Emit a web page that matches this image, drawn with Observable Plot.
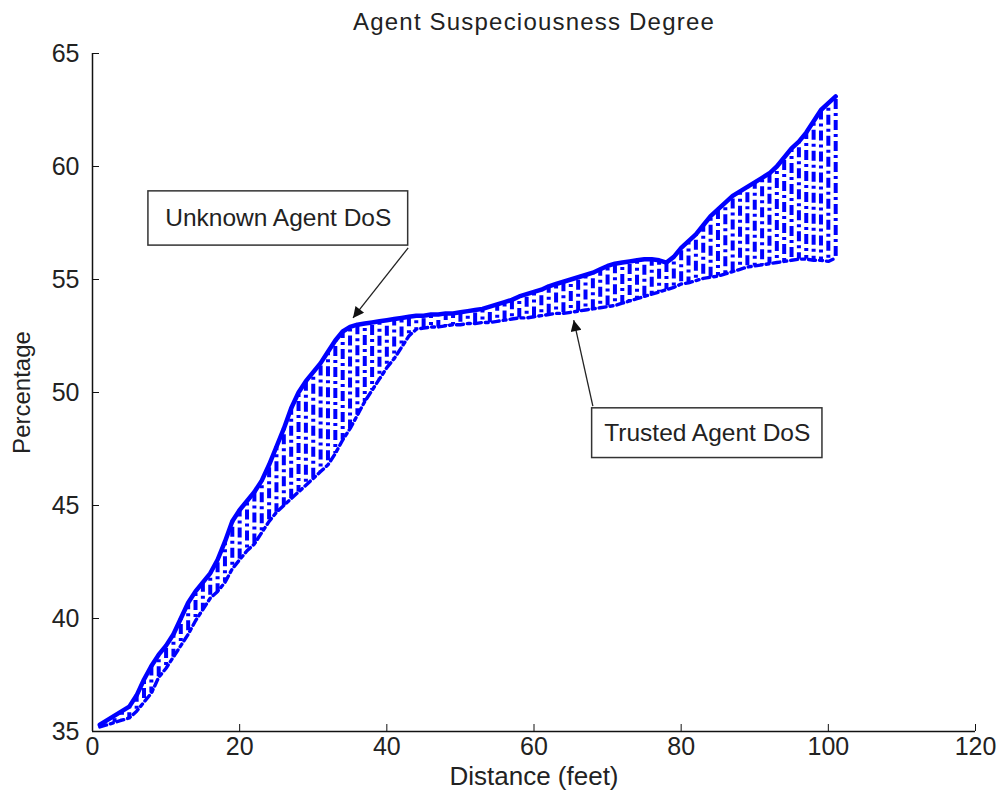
<!DOCTYPE html>
<html><head><meta charset="utf-8">
<script src="https://cdn.jsdelivr.net/npm/d3@7"></script>
<script src="https://cdn.jsdelivr.net/npm/@observablehq/plot@0.6"></script>
<style>
body{margin:0;background:#fff}
svg{font-family:"Liberation Sans",Arial,sans-serif}
</style>
</head><body><div id="chart"></div>
<script>
// Distance (feet), sampled every foot
const distance = d3.range(1, 102);
// Unknown agent degree of suspiciousness (upper edge of band)
const unknownDoS = [
35.3,35.5,35.7,35.9,36.1,36.6,37.3,37.9,38.4,38.8,
39.3,40.0,40.7,41.2,41.6,42.0,42.6,43.4,44.3,44.8,
45.2,45.6,46.1,46.8,47.6,48.4,49.3,50.0,50.5,50.9,
51.3,51.8,52.3,52.7,52.9,53.0,53.05,53.1,53.15,53.2,
53.25,53.3,53.35,53.4,53.4,53.45,53.45,53.5,53.5,53.55,
53.6,53.65,53.7,53.8,53.9,54.0,54.1,54.25,54.35,54.45,
54.55,54.7,54.8,54.9,55.0,55.1,55.2,55.3,55.45,55.6,
55.7,55.75,55.8,55.85,55.9,55.9,55.85,55.75,56.0,56.4,
56.7,57.0,57.4,57.8,58.1,58.4,58.7,58.9,59.1,59.3,
59.5,59.7,60.0,60.4,60.8,61.1,61.5,62.0,62.5,62.8,
63.1];
// Trusted agent degree of suspiciousness (lower edge of band)
const trustedDoS = [
35.2,35.3,35.4,35.5,35.6,35.9,36.3,36.7,37.4,37.8,
38.3,38.8,39.3,39.9,40.4,40.9,41.2,41.6,42.2,42.6,
43.0,43.3,43.8,44.3,44.7,45.0,45.3,45.6,45.9,46.2,
46.5,46.8,47.3,47.9,48.4,49.0,49.6,50.1,50.6,51.1,
51.5,52.0,52.5,52.8,52.85,52.9,52.9,52.95,53.0,53.0,
53.05,53.05,53.1,53.1,53.15,53.2,53.25,53.3,53.3,53.35,
53.4,53.45,53.5,53.5,53.55,53.6,53.65,53.7,53.75,53.8,
53.85,53.95,54.05,54.15,54.25,54.35,54.45,54.55,54.65,54.8,
54.85,54.95,55.05,55.1,55.15,55.25,55.35,55.45,55.55,55.6,
55.65,55.7,55.75,55.8,55.85,55.9,55.9,55.85,55.85,55.8,
55.95];

const xTicks = [0, 20, 40, 60, 80, 100, 120];
const yTicks = [35, 40, 45, 50, 55, 60, 65];
const titleText = "Agent Suspeciousness Degree";
const xLabelText = "Distance (feet)";
const yLabelText = "Percentage";

// Annotations (data coordinates)
const annLabels = ["Unknown Agent DoS", "Trusted Agent DoS"];
const annBoxX1 = [7.6, 67.9];
const annBoxX2 = [42.9, 99.2];
const annBoxY1 = [56.5, 47.1];
const annBoxY2 = [58.9, 49.3];
const annArrowX1 = [42.9, 68.0];
const annArrowY1 = [56.4, 49.4];
const annArrowX2 = [35.4, 65.4];
const annArrowY2 = [53.3, 53.2];

const band = distance.map((d, i) => ({x: d, hi: unknownDoS[i], lo: trustedDoS[i]}));
const ann = annLabels.map((t, i) => ({
  text: t,
  bx1: annBoxX1[i], bx2: annBoxX2[i], by1: annBoxY1[i], by2: annBoxY2[i],
  cx: (annBoxX1[i] + annBoxX2[i]) / 2, cy: (annBoxY1[i] + annBoxY2[i]) / 2,
  ax1: annArrowX1[i], ay1: annArrowY1[i], ax2: annArrowX2[i], ay2: annArrowY2[i]
}));

const blue = "#0000ff";
const dash = "10,4,3,4";

const chart = Plot.plot({
  width: 1005,
  height: 802,
  marginLeft: 92,
  marginRight: 30,
  marginTop: 53,
  marginBottom: 71,
  style: {background: "#fff", color: "#222", fontFamily: "'Liberation Sans', Arial, sans-serif", fontSize: "24px"},
  x: {domain: [0, 120]},
  y: {domain: [35, 65]},
  marks: [
    Plot.ruleX(band, {x: "x", y1: "hi", y2: "lo", stroke: blue, strokeWidth: 4, strokeDasharray: dash}),
    Plot.lineY(band, {x: "x", y: "lo", stroke: blue, strokeWidth: 3.4, strokeDasharray: "7,4,3,4"}),
    Plot.lineY(band, {x: "x", y: "hi", stroke: blue, strokeWidth: 4.5}),
    Plot.ruleX([0], {stroke: "#111", strokeWidth: 1.5}),
    Plot.ruleY([35], {stroke: "#111", strokeWidth: 1.5}),
    Plot.axisX({ticks: xTicks, tickSize: -7, tickPadding: 13, label: null, fontSize: 25, stroke: "#111", tickFormat: d => String(d)}),
    Plot.axisY({ticks: yTicks, tickSize: -7, tickPadding: 20, label: null, fontSize: 25, stroke: "#111", tickFormat: d => String(d)}),
    Plot.link(ann, {x1: "ax1", y1: "ay1", x2: "ax2", y2: "ay2", stroke: "#222", strokeWidth: 1.3}),
    Plot.rect(ann, {x1: "bx1", x2: "bx2", y1: "by1", y2: "by2", fill: "#fff", stroke: "#333", strokeWidth: 1.5}),
    Plot.text(ann, {x: "cx", y: "cy", text: "text", fontSize: 24.5, fill: "#222"}),
    Plot.text([titleText], {frameAnchor: "top", dy: -33, text: d => d, fontSize: 24, fill: "#222"}),
    Plot.text([xLabelText], {frameAnchor: "bottom", dy: 53, text: d => d, fontSize: 26, fill: "#222"}),
    Plot.text([yLabelText], {frameAnchor: "left", dx: -70, rotate: -90, textAnchor: "middle", text: d => d, fontSize: 24, fill: "#222"})
  ]
});

const svg = d3.select(chart);
// filled arrowheads for the annotation links
svg.append("defs").append("marker")
  .attr("id", "ahead").attr("viewBox", "0 0 10 10").attr("refX", 10).attr("refY", 5)
  .attr("markerWidth", 14).attr("markerHeight", 11).attr("markerUnits", "userSpaceOnUse")
  .attr("orient", "auto")
  .append("path").attr("d", "M0,0L10,5L0,10z").attr("fill", "#111");
svg.selectAll("g[aria-label=link] path").attr("marker-end", "url(#ahead)");
// stagger the dash phase of the hatch lines
d3.select(svg.selectAll("g[aria-label=rule]").nodes()[0]).selectAll("line")
  .attr("stroke-dashoffset", (d, i) => (i * 9) % 21);
// title: letter-spaced, nudged up
svg.selectAll("text").filter(function() { return this.textContent === titleText; })
  .attr("letter-spacing", "1.2px").attr("dy", "-0.3em");

document.getElementById("chart").appendChild(chart);
</script>
</body></html>
